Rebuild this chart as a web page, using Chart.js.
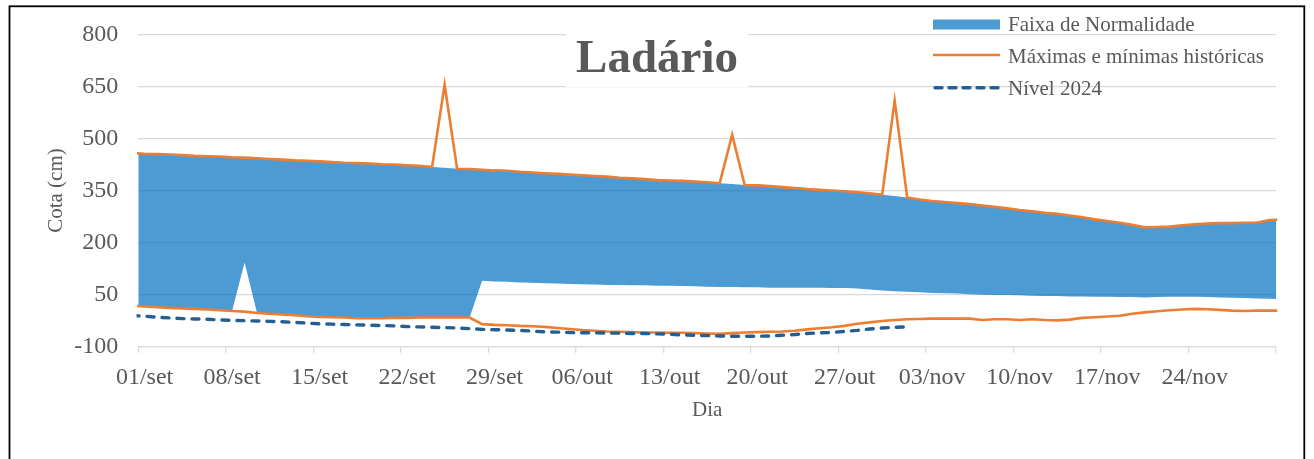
<!DOCTYPE html>
<html>
<head>
<meta charset="utf-8">
<script src="https://cdn.jsdelivr.net/npm/chart.js@4.4.0/dist/chart.umd.min.js"></script>
<style>
html,body{margin:0;padding:0;background:#fff;overflow:hidden}
canvas{display:block}
</style>
</head>
<body>
<canvas id="c" width="1314" height="459"></canvas>
<script>
// Categorias (dias). '31/ago' e '01/dez' ficam fora dos limites do eixo; apenas prolongam as linhas até as bordas.
const dias = ['31/ago',
 '01/set','02/set','03/set','04/set','05/set','06/set','07/set','08/set','09/set','10/set',
 '11/set','12/set','13/set','14/set','15/set','16/set','17/set','18/set','19/set','20/set',
 '21/set','22/set','23/set','24/set','25/set','26/set','27/set','28/set','29/set','30/set',
 '01/out','02/out','03/out','04/out','05/out','06/out','07/out','08/out','09/out','10/out',
 '11/out','12/out','13/out','14/out','15/out','16/out','17/out','18/out','19/out','20/out',
 '21/out','22/out','23/out','24/out','25/out','26/out','27/out','28/out','29/out','30/out','31/out',
 '01/nov','02/nov','03/nov','04/nov','05/nov','06/nov','07/nov','08/nov','09/nov','10/nov',
 '11/nov','12/nov','13/nov','14/nov','15/nov','16/nov','17/nov','18/nov','19/nov','20/nov',
 '21/nov','22/nov','23/nov','24/nov','25/nov','26/nov','27/nov','28/nov','29/nov','30/nov',
 '01/dez'];
const primeiroDia = '01/set';
const ultimoDia = '30/nov';

const maximas = [458,
 456,455,454,452,450,449,448,446,445,443,
 441,439,437,436,434,432,430,429,428,426,
 425,423,421,418,655,413,412,410,408,407,
 404,402,400,398,396,394,392,390,387,385,
 383,380,379,378,376,374,371,511,366,365,
 363,360,357,354,352,350,348,345,342,338,
 609,330,324,320,317,314,311,307,303,299,
 294,290,286,283,278,273,267,262,257,251,
 244,245,246,250,253,255,256,256,257,258,
 265,
 266];

const faixaSuperior = [458,
 456,455,454,452,450,449,448,446,445,443,
 441,439,437,436,434,432,430,429,428,426,
 425,423,421,418,416,413,412,410,408,407,
 404,402,400,398,396,394,392,390,387,385,
 383,380,379,378,376,374,371,369,366,365,
 363,360,357,354,352,350,348,345,342,338,
 334,330,324,320,317,314,311,307,303,299,
 294,290,286,283,278,273,267,262,257,251,
 244,245,246,250,253,255,256,256,257,258,
 265,
 266];

const minimas = [18,
 16,14,12,10,9,7,5,3,1,-3,
 -5,-7,-9,-12,-14,-15,-16,-18,-18,-18,
 -17,-17,-16,-16,-16,-16,-16,-35,-37,-38,
 -40,-41,-43,-46,-49,-52,-54,-56,-57,-58,
 -59,-59,-60,-60,-61,-62,-63,-61,-59,-58,
 -57,-56,-54,-50,-47,-44,-40,-34,-30,-26,
 -23,-21,-20,-19,-19,-19,-19,-23,-21,-21,
 -23,-21,-23,-24,-22,-17,-15,-13,-11,-5,
 -1,2,5,7,9,8,6,4,3,4,
 4,
 4];

const faixaInferior = [18,
 16,14,12,10,9,7,5,3,143,-3,
 -5,-7,-9,-12,-14,-15,-16,-18,-18,-18,
 -17,-17,-16,-16,-16,-16,-16,90,88,87,
 85,84,83,82,81,80,79,78,78,77,
 77,76,76,75,74,73,72,72,71,71,
 70,70,70,70,70,69,69,68,65,62,
 60,58,57,55,54,53,51,50,49,49,
 48,47,46,46,45,45,44,44,43,43,
 42,43,44,44,44,43,42,41,40,39,
 38,
 37];

const nivel2024 = [-10,
 -12,-15,-17,-19,-20,-21,-23,-24,-25,-26,
 -27,-28,-30,-32,-34,-35,-36,-37,-38,-39,
 -40,-42,-43,-44,-45,-46,-48,-50,-51,-52,
 -53,-55,-57,-58,-59,-60,-60,-61,-61,-62,
 -62,-63,-64,-66,-67,-68,-69,-70,-70,-70,
 -69,-67,-65,-62,-60,-59,-56,-53,-49,-46,
 -44,-43];

const tituloTexto = 'Ladário';
const legendaTextos = ['Faixa de Normalidade', 'Máximas e mínimas históricas', 'Nível 2024'];

const FONT = "'Liberation Serif','Times New Roman',serif";
const TXT = '#595959';
const AZUL_FAIXA = 'rgba(0,112,192,0.7)';
const LARANJA = '#ED7D31';
const AZUL_ESCURO = '#255E91';

const moldura = {
  id: 'moldura',
  afterDraw(chart) {
    const ctx = chart.ctx;
    ctx.save();
    ctx.strokeStyle = '#000';
    ctx.lineWidth = 1.8;
    ctx.strokeRect(9.5, 6.3, 1294.8, 480);
    ctx.restore();
  }
};

const titulo = {
  id: 'tituloCaixa',
  beforeDatasetsDraw(chart) {
    const ctx = chart.ctx;
    ctx.save();
    ctx.fillStyle = '#fff';
    ctx.fillRect(566, 26, 182, 61);
    ctx.font = 'bold 47px ' + FONT;
    ctx.fillStyle = TXT;
    ctx.textAlign = 'center';
    ctx.textBaseline = 'alphabetic';
    ctx.fillText(tituloTexto, 657, 72);
    ctx.restore();
  }
};

const legenda = {
  id: 'legendaCustom',
  afterDraw(chart) {
    const ctx = chart.ctx;
    ctx.save();
    ctx.font = '21px ' + FONT;
    ctx.textAlign = 'left';
    ctx.textBaseline = 'alphabetic';
    ctx.fillStyle = AZUL_FAIXA;
    ctx.fillRect(933, 19.5, 67, 10);
    ctx.fillStyle = TXT;
    ctx.fillText(legendaTextos[0], 1008, 31);
    ctx.strokeStyle = LARANJA;
    ctx.lineWidth = 2.6;
    ctx.beginPath(); ctx.moveTo(933, 55); ctx.lineTo(1000, 55); ctx.stroke();
    ctx.fillText(legendaTextos[1], 1008, 62.5);
    ctx.strokeStyle = AZUL_ESCURO;
    ctx.lineWidth = 3.4;
    ctx.lineCap = 'round';
    ctx.setLineDash([7, 7]);
    ctx.beginPath(); ctx.moveTo(935, 87.7); ctx.lineTo(1000, 87.7); ctx.stroke();
    ctx.setLineDash([]);
    ctx.fillText(legendaTextos[2], 1008, 94.5);
    ctx.restore();
  }
};

new Chart(document.getElementById('c'), {
  type: 'line',
  data: {
    labels: dias,
    datasets: [
      { label: legendaTextos[2], data: nivel2024, borderColor: AZUL_ESCURO, borderWidth: 3.4,
        borderDash: [7, 8], borderCapStyle: 'round', pointRadius: 0, fill: false, spanGaps: false },
      { label: legendaTextos[1], data: maximas, borderColor: LARANJA, borderWidth: 2.6, pointRadius: 0, fill: false },
      { label: 'Mínimas históricas', data: minimas, borderColor: LARANJA, borderWidth: 2.6, pointRadius: 0, fill: false },
      { label: legendaTextos[0], data: faixaSuperior, borderColor: 'rgba(0,0,0,0)', borderWidth: 0,
        backgroundColor: AZUL_FAIXA, pointRadius: 0, fill: '+1' },
      { label: 'Limite inferior da faixa', data: faixaInferior, borderColor: 'rgba(0,0,0,0)', borderWidth: 0,
        pointRadius: 0, fill: false }
    ]
  },
  options: {
    responsive: false,
    animation: false,
    devicePixelRatio: 1,
    layout: { padding: { left: 30, right: 38, top: 32.3, bottom: 0 } },
    elements: { line: { tension: 0 }, point: { radius: 0 } },
    plugins: { legend: { display: false }, title: { display: false }, tooltip: { enabled: false } },
    scales: {
      x: {
        type: 'category',
        offset: true,
        afterDataLimits(s) {
          const labels = s.getLabels();
          s.min = labels.indexOf(primeiroDia);
          s.max = labels.indexOf(ultimoDia);
        },
        grid: {
          offset: true, drawOnChartArea: false, drawTicks: true, tickLength: 6, lineWidth: 1.3,
          color: (c) => (c.index === undefined || c.index % 7 === 0) ? '#D9D9D9' : 'rgba(0,0,0,0)'
        },
        border: { display: true, color: '#D9D9D9', width: 1.3 },
        ticks: {
          autoSkip: false, maxRotation: 0, minRotation: 0, padding: 11, color: TXT,
          font: { family: FONT, size: 24 },
          callback: function (v, i) { return (i % 7 === 0) ? this.getLabelForValue(v) : ''; }
        },
        title: { display: true, text: 'Dia', color: TXT, font: { family: FONT, size: 21 }, padding: { top: 0, bottom: 36 } },
        afterFit(s) { s.height = 459 - 346.7; }
      },
      y: {
        min: -100, max: 800,
        ticks: { stepSize: 150, padding: 20, color: TXT, font: { family: FONT, size: 24 } },
        grid: { color: '#D9D9D9', lineWidth: 1.3, drawTicks: false },
        border: { display: false },
        title: { display: true, text: 'Cota (cm)', color: TXT, font: { family: FONT, size: 21 }, padding: { top: 14, bottom: 0 } },
        afterFit(s) { s.width = 138.3 - 30; }
      }
    }
  },
  plugins: [moldura, titulo, legenda]
});
</script>
</body>
</html>
